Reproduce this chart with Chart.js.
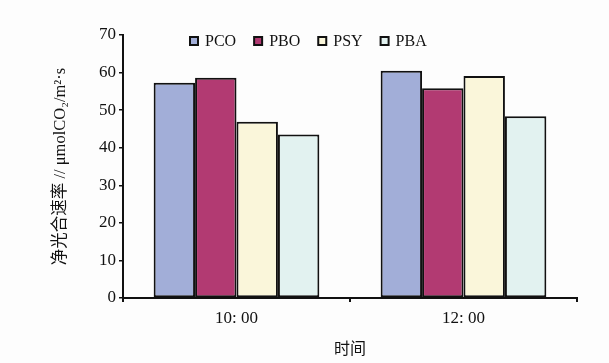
<!DOCTYPE html>
<html>
<head>
<meta charset="utf-8">
<script src="https://cdn.jsdelivr.net/npm/chart.js@4/dist/chart.umd.min.js"></script>
<style>
  html, body { margin: 0; padding: 0; background: #fdfdfd; }
  #wrap { width: 609px; height: 363px; }
</style>
</head>
<body>
<div id="wrap"><canvas id="c" width="609" height="363"></canvas></div>
<script>
const TIMES  = ['10: 00', '12: 00'];
const SERIES = ['PCO', 'PBO', 'PSY', 'PBA'];
const PCO = [57.3, 60.5];
const PBO = [58.6, 55.8];
const PSY = [46.9, 59.1];
const PBA = [43.5, 48.4];
const FILLS = ['#a2aed8', '#b23a72', '#faf6da', '#e2f2f0'];

const SERIF = "'Liberation Serif', 'DejaVu Serif', serif";
const CJK = "'Liberation Serif', 'Noto Sans CJK SC', serif";

// legend sits inside the plot, just under the top, left of centre
const innerLegend = {
    id: 'innerLegend',
    afterDraw(chart) {
        const ctx = chart.ctx;
        const area = chart.chartArea;
        let x = area.left + 67;
        const y = area.top + 6;
        ctx.save();
        ctx.font = '16px ' + SERIF;
        ctx.textBaseline = 'middle';
        chart.data.datasets.forEach(ds => {
            ctx.fillStyle = ds.backgroundColor;
            ctx.fillRect(x, y - 4, 8, 8);
            ctx.lineWidth = 2;
            ctx.strokeStyle = '#111';
            ctx.strokeRect(x, y - 4, 8, 8);
            ctx.fillStyle = '#111';
            ctx.fillText(ds.label, x + 15, y + 1);
            x += 15 + ctx.measureText(ds.label).width + 18;
        });
        ctx.restore();
    }
};

new Chart(document.getElementById('c'), {
    type: 'bar',
    data: {
        labels: TIMES,
        datasets: [PCO, PBO, PSY, PBA].map((vals, i) => ({
            label: SERIES[i],
            data: vals,
            backgroundColor: FILLS[i],
            borderColor: '#111',
            borderWidth: 2,
            borderSkipped: false
        }))
    },
    plugins: [innerLegend],
    options: {
        responsive: false,
        animation: false,
        categoryPercentage: 0.73,
        barPercentage: 1.0,
        layout: { padding: { left: 0, right: 32, top: 35, bottom: 0 } },
        plugins: {
            legend: { display: false },
            tooltip: { enabled: false }
        },
        scales: {
            x: {
                afterFit: s => { s.height = 65; },
                border: { color: '#111', width: 2 },
                grid: { offset: true, drawOnChartArea: false, tickLength: 4, color: '#111', lineWidth: 2 },
                ticks: { color: '#111', padding: 6, font: { family: SERIF, size: 17 } },
                title: { display: true, text: '时间', color: '#111', padding: { top: 7 }, font: { family: CJK, size: 16 } }
            },
            y: {
                min: 0,
                max: 70,
                afterFit: s => { s.width = 123; },
                border: { color: '#111', width: 2 },
                grid: { drawOnChartArea: false, tickLength: 4, color: '#111', lineWidth: 1.5 },
                ticks: { stepSize: 10, color: '#111', padding: 3, font: { family: SERIF, size: 17 } },
                title: { display: true, text: '净光合速率 // μmolCO₂/m²·s', color: '#111', padding: { top: 51 }, font: { family: CJK, size: 16.5 } }
            }
        }
    }
});
</script>
</body>
</html>
